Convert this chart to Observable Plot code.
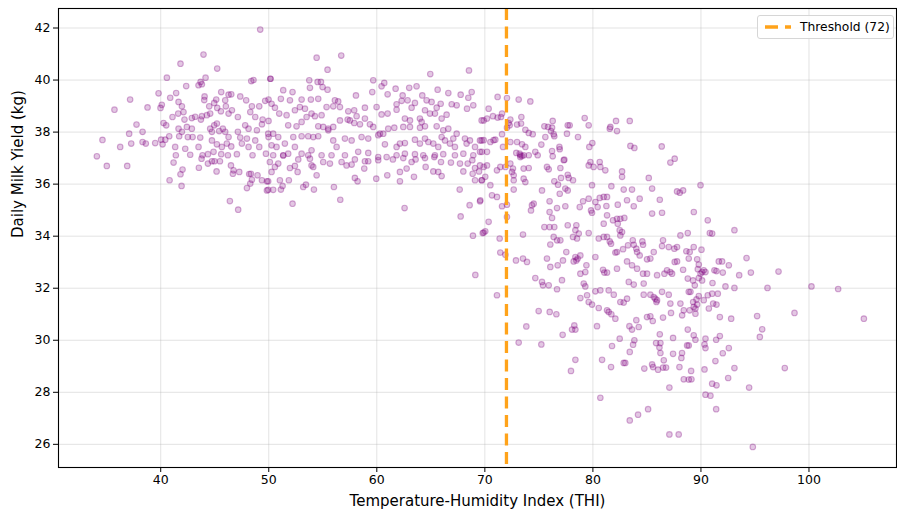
<!DOCTYPE html>
<html>
<head>
<meta charset="utf-8">
<script src="https://cdn.jsdelivr.net/npm/d3@7"></script>
<script src="https://cdn.jsdelivr.net/npm/@observablehq/plot@0.6"></script>
<style>
  html, body { margin: 0; padding: 0; background: #fff; }
  #wrap { position: relative; width: 897px; height: 512px; font-family: "DejaVu Sans", sans-serif; }
  #legend { position: absolute; left: 757px; top: 15px; width: 135px; height: 22px; white-space: nowrap;
            border: 1px solid #d6d6d6; border-radius: 3px; background: rgba(255,255,255,0.85);
            display: flex; align-items: center; font-size: 12.3px; color: #000; box-sizing: content-box; }
  #legend svg { margin-left: 7px; margin-right: 9px; flex: none; }
</style>
</head>
<body>
<div id="wrap"><div id="legend"></div></div>
<script>
// ---- data: [THI, daily milk yield (kg)] ----
const thi30to50 = [
[49.21,41.94],[43.96,40.98],[41.83,40.63],[45.23,40.44],[40.57,40.09],[44.15,40.09],[43.69,39.93],[43.5,39.8],[43.81,39.84],[42.36,39.77],[48.59,40.0],[48.38,39.96],[39.8,39.49],[40.88,39.32],[41.43,39.5],[37.17,39.25],[35.72,38.86],[38.78,38.95],[40.1,39.05],[39.98,38.93],[41.65,39.16],[41.96,38.99],[41.62,38.71],[42.11,38.77],[42.2,38.48],[42.88,38.54],[43.19,38.59],[43.72,38.48],[43.81,38.61],[44.03,39.23],[44.06,39.37],[44.49,38.99],[44.95,39.12],[45.14,39.25],[45.6,39.54],[45.23,38.93],[45.57,38.8],[45.97,39.22],[46.03,38.99],[46.28,39.44],[46.53,39.45],[47.36,39.37],[46.28,38.71],[46.59,38.84],[47.14,38.58],[47.91,39.22],[48.44,38.99],[49.12,38.99],[49.67,39.2],[49.98,39.25],[48.29,38.77],[48.75,38.58],[49.43,38.48],[47.82,38.26],[48.13,38.13],[48.9,38.07],[49.37,38.3],[49.98,38.43],[37.76,38.29],[38.32,38.01],[37.08,37.94],[34.61,37.7],[34.09,37.07],[36.25,37.43],[37.27,37.56],[38.32,37.62],[38.62,37.56],[39.49,37.58],[40.04,37.71],[40.17,37.53],[40.26,38.35],[40.51,38.26],[40.79,37.84],[41.71,37.84],[41.96,38.01],[41.34,37.43],[41.4,37.11],[42.27,37.36],[42.51,37.81],[42.88,38.13],[42.95,37.81],[42.73,37.13],[43.5,37.43],[43.66,37.79],[43.87,37.11],[44.37,37.15],[44.58,38.13],[44.74,38.01],[44.95,38.26],[45.2,38.33],[45.41,38.04],[45.75,38.13],[45.97,38.01],[46.28,37.81],[46.12,37.56],[44.74,37.68],[45.2,37.53],[45.66,37.43],[46.53,37.45],[47.05,37.15],[47.14,38.01],[47.36,37.79],[47.51,37.56],[47.98,37.75],[48.13,37.43],[48.5,37.11],[48.75,37.68],[49.12,37.43],[49.74,37.17],[49.98,37.81],[46.22,37.11],[45.6,37.15],[44.89,37.24],[41.65,38.13],[40.42,37.71],[41.09,38.58],[42.42,38.2],[44.27,38.65],[44.58,38.71],
[35.01,36.7],[36.9,36.7],[41.19,36.83],[40.82,36.15],[41.83,36.38],[42.02,36.56],[41.93,35.93],[43.53,36.63],[43.78,36.98],[44.37,36.79],[44.74,36.88],[44.98,36.88],[45.48,36.88],[45.17,36.49],[46.5,36.72],[46.74,36.53],[46.68,36.4],[47.27,36.47],[46.4,35.35],[47.17,35.02],[47.98,35.85],[48.29,36.02],[48.44,36.17],[48.19,36.39],[48.35,36.4],[48.96,36.34],[49.37,36.15],[49.83,36.11],[49.83,35.76]
];
const thi50to70 = [
[50.14,40.05],[54.43,40.86],[56.71,40.94],[55.44,40.4],[64.95,40.23],[68.53,40.37],[50.17,40.05],[53.75,39.99],[54.52,39.93],[54.83,39.93],[53.81,39.7],[54.98,39.73],[55.44,39.63],[51.34,39.61],[52.2,39.54],[58.07,39.41],[59.67,39.99],[60.44,39.76],[60.69,39.89],[59.58,39.54],[61.0,39.45],[61.74,39.67],[62.39,39.41],[63.0,39.7],[63.68,39.76],[64.21,39.41],[65.63,39.63],[66.62,39.5],[67.76,39.44],[68.78,39.54],[68.47,39.32],[51.12,39.28],[51.96,39.22],[53.04,39.25],[53.9,39.25],[54.58,39.28],[56.12,39.22],[56.43,39.18],[50.26,39.09],[50.57,38.94],[50.97,38.71],[51.65,38.65],[52.42,38.84],[52.88,38.96],[53.35,38.9],[53.96,38.71],[54.27,38.61],[54.89,38.65],[55.35,38.96],[55.97,38.99],[56.59,38.96],[57.36,38.8],[57.91,38.84],[58.9,38.94],[58.13,38.61],[59.98,38.96],[60.44,38.68],[61.0,38.71],[61.83,39.07],[62.3,39.2],[61.83,38.86],[62.85,39.22],[63.53,39.12],[63.22,38.94],[64.61,39.22],[65.07,39.16],[65.54,38.94],[65.91,39.09],[66.93,39.07],[67.39,39.03],[68.35,38.9],[68.93,39.03],[64.46,38.84],[64.92,38.71],[65.38,38.71],[66.46,38.67],[69.7,38.45],[62.6,38.52],[63.07,38.45],[63.99,38.52],[64.15,38.39],[66.0,38.52],[51.8,38.26],[52.57,38.22],[53.04,38.39],[53.5,38.58],[54.58,38.22],[55.04,38.2],[55.51,38.13],[55.97,38.2],[56.59,38.45],[57.3,38.48],[57.51,38.45],[57.91,38.35],[58.44,38.3],[58.9,38.52],[59.36,38.3],[59.67,38.2],[60.29,37.94],[61.06,38.13],[61.62,38.17],[62.45,38.2],[63.07,38.2],[64.0,38.17],[64.46,38.22],[65.54,38.22],[66.15,38.07],[66.62,38.13],[67.39,37.94],[68.16,37.75],[68.62,37.68],[69.55,37.68],[49.95,37.94],[50.41,37.94],[50.88,37.81],[52.27,37.81],[53.04,37.84],[53.65,37.84],[54.12,37.81],[54.58,37.84],[55.51,38.07],[55.97,37.68],[57.05,37.75],[57.67,37.68],[58.59,37.81],[59.21,37.75],[60.13,37.88],[60.75,37.53],[60.6,37.94],[61.83,37.43],[62.14,37.56],[62.6,37.58],[63.53,37.71],[63.99,37.56],[64.46,37.75],[64.77,37.62],[65.23,37.56],[65.69,37.43],[66.0,37.81],[66.31,37.68],[66.77,37.56],[67.08,37.75],[67.23,37.43],[68.31,37.56],[69.09,37.43],[69.7,37.68],[50.26,37.49],[50.72,37.43],[51.49,37.56],[51.8,37.17],[50.41,37.11],[51.34,37.11],[52.42,37.43],[53.04,37.17],[53.65,37.11],[53.96,37.3],[54.89,37.11],[55.81,37.11],[56.28,37.43],[57.05,37.11],[58.28,37.24],[59.21,37.2],[60.13,37.04],[60.91,37.04],[61.83,37.11],[62.6,37.17],[63.53,37.15],[64.3,37.11],[65.38,37.11],[66.15,37.15],[67.23,37.11],[68.01,37.17],[68.93,37.11],[69.55,37.24],
[52.2,35.25],[56.62,35.4],[62.57,35.08],[67.76,34.76],[68.59,35.19],[68.9,34.02],[69.12,32.51],[67.67,35.79],[69.55,35.34],[69.8,34.12],[49.95,35.78],[50.41,35.78],[51.12,35.79],[51.28,35.93],[53.19,35.89],[53.44,35.98],[54.18,35.79],[56.03,35.89],[57.97,36.24],[58.22,36.11],[59.95,36.21],[60.97,36.34],[62.14,36.11],[63.44,36.28],[66.0,36.31],[51.03,36.15],[51.86,36.15],[54.43,36.34],[52.67,36.47],[51.96,36.62],[52.42,36.7],[50.57,36.66],[50.88,36.79],[53.96,36.72],[54.12,36.66],[55.04,36.85],[55.66,36.79],[56.74,36.85],[57.2,36.72],[57.67,36.75],[57.97,36.95],[58.9,36.88],[58.84,36.6],[59.21,36.88],[60.13,36.92],[61.49,36.95],[62.45,37.0],[63.22,36.85],[63.59,36.95],[64.46,37.0],[65.32,37.04],[65.94,36.85],[62.76,36.6],[62.14,36.47],[64.52,36.66],[65.23,36.49],[65.69,36.47],[66.86,36.83],[67.7,36.79],[68.01,36.49],[68.41,36.79],[68.84,36.92],[68.87,36.4],[69.09,36.62],[69.46,36.49],[69.55,36.72],[69.7,36.15],[69.09,36.15],[49.95,36.11],[50.26,36.47],[50.1,36.85],[51.34,37.1],[52.73,36.95],[53.81,36.98]
];
const thi70to90Upper = [
[71.18,39.35],[72.05,39.31],[73.13,39.25],[74.21,39.18],[70.35,38.9],[69.89,38.45],[70.2,38.52],[70.75,38.61],[71.18,38.56],[71.49,38.58],[71.59,38.71],[72.36,38.48],[72.2,38.35],[72.3,38.26],[72.05,38.17],[73.38,38.58],[73.35,38.33],[72.98,38.29],[73.75,38.09],[74.06,37.97],[74.43,37.92],[75.51,38.22],[75.85,38.2],[76.22,38.17],[76.12,38.04],[76.37,37.92],[76.43,37.84],[76.28,38.43],[77.67,38.26],[77.85,38.26],[79.24,38.54],[79.61,38.26],[77.6,37.94],[78.62,37.81],[79.95,37.58],[79.67,37.43],[81.62,38.2],[81.56,38.13],[82.14,38.43],[82.23,38.04],[83.41,38.43],[83.47,37.47],[83.84,37.39],[86.37,37.45],[87.57,36.98],[69.89,37.69],[70.51,37.62],[70.81,37.69],[70.97,37.71],[71.59,37.92],[71.68,37.43],[72.36,37.62],[72.98,37.62],[73.44,37.53],[73.75,37.43],[73.29,37.11],[73.6,37.11],[73.22,37.17],[74.06,37.11],[74.89,37.11],[74.67,37.24],[75.23,37.52],[75.6,37.81],[76.22,37.27],[76.28,37.07],[76.9,37.43],[76.93,37.34],[77.36,36.94],[69.73,37.24],[70.2,37.24],[72.91,37.2],
[73.28,37.04],[73.44,37.08],[77.3,36.92],[79.77,36.85],[79.61,36.72],[80.07,36.66],[80.69,36.66],[81.15,36.53],[80.63,36.85],[87.17,36.83],[69.89,36.66],[70.2,36.72],[71.12,36.53],[71.43,36.66],[71.9,36.66],[72.36,36.79],[72.6,36.6],[72.51,36.47],[72.67,36.34],[73.59,36.6],[74.06,36.62],[70.04,36.28],[69.73,36.15],[72.67,36.15],[73.59,36.21],[73.75,36.08],[75.75,36.66],[75.91,36.57],[76.99,36.62],[76.43,36.11],[77.05,36.24],[77.67,36.36],[77.76,36.24],[78.16,36.15],[76.77,35.98],[82.7,36.49],[82.7,36.28],[85.17,36.24],[70.51,35.96],[72.67,35.79],[75.29,35.76],[77.45,35.83],[77.67,35.76],[79.92,35.96],[81.71,35.92],[82.85,35.79],[83.62,35.79],[85.48,35.83],[87.79,35.72],[88.04,35.67],[88.35,35.76],[69.58,35.38],[70.66,35.57],[71.12,35.51],[72.05,35.21],[71.59,35.15],[72.05,34.74],[74.36,35.19],[74.52,35.25],[74.27,34.99],[75.99,35.34],[75.99,34.93],[76.22,34.7],[76.68,35.08],[77.45,35.15],[76.93,35.63],[78.78,35.12],[79.09,35.34],[79.61,35.44],[79.92,34.9],[79.83,34.99],[80.23,35.31],[80.44,35.12],[80.63,35.47],[81.0,35.51],[81.31,35.51],[81.25,35.16],[81.31,34.8],[82.3,35.21],[83.16,35.38],[83.78,35.15],[84.33,35.44],[85.48,34.87],[86.19,35.4],[86.4,34.9]
];
const thi70to90Lower = [
[81.0,34.48],[81.86,34.61],[82.23,34.67],[82.54,34.67],[82.91,34.7],[82.3,34.48],[82.48,34.23],[82.7,34.16],[82.54,34.03],[75.51,34.35],[75.99,34.35],[76.43,34.35],[77.67,34.42],[78.47,34.42],[78.38,34.23],[78.69,34.1],[79.61,34.12],[78.16,33.97],[78.53,33.91],[76.99,33.84],[76.37,33.97],[76.68,33.84],[76.06,33.68],[73.53,34.06],[70.04,34.19],[70.35,34.55],[69.89,34.14],[71.37,33.91],[71.43,33.37],[71.9,33.29],[80.54,33.91],[81.0,33.97],[81.31,33.97],[81.56,33.8],[81.68,33.71],[82.23,33.39],[82.08,33.37],[82.79,33.5],[83.25,33.65],[83.69,33.84],[83.78,33.67],[84.02,33.52],[84.09,33.39],[84.58,33.8],[84.64,33.67],[84.33,33.26],[85.01,33.11],[85.32,33.14],[85.63,33.39],[86.49,33.84],[86.4,33.62],[87.02,33.58],[87.54,33.52],[87.79,33.58],[88.1,34.03],[88.78,34.12],[88.65,33.42],[88.96,33.39],[88.87,33.14],[89.33,33.58],[87.57,33.01],[87.79,33.03],[78.38,33.2],[78.59,33.14],[78.47,33.07],[78.22,33.03],[78.84,33.26],[79.4,32.88],[79.3,32.62],[80.23,33.2],[80.94,32.71],[81.06,32.6],[81.31,32.6],[82.23,32.75],[83.16,33.03],[83.62,32.88],[84.09,32.75],[84.64,32.56],[85.01,32.56],[85.94,32.5],[86.62,32.56],[86.86,32.69],[87.17,32.62],[87.33,32.56],[88.35,32.71],[88.78,32.37],[89.27,32.3],[72.88,33.07],[73.53,33.14],[73.9,33.01],[75.75,33.14],[76.06,32.82],[76.74,32.88],[77.23,33.07],[77.54,33.39],[74.67,32.39],[75.29,32.24],[75.38,32.11],[75.91,32.11],[76.68,31.96],[77.14,32.31],[78.84,32.56],[79.15,32.18],[79.3,32.07],[79.46,31.73],[78.84,31.62],[79.61,31.47],[79.92,31.37],[80.23,31.88],[80.69,31.92],[81.46,31.92],[80.54,31.24],[81.31,31.15],[81.46,31.09],[81.93,31.75],[82.54,31.47],[82.85,31.45],[83.16,31.6],[83.32,32.24],[83.78,32.14],[84.7,32.18],[84.7,31.75],[85.32,31.75],[85.63,31.66],[85.78,31.6],[85.88,31.47],[85.94,31.54],[86.4,31.86],[87.02,31.75],[87.17,31.41],[88.1,31.41],[88.41,31.15],[88.87,31.86],[88.96,31.15],[89.33,31.28],[71.12,31.73],
[73.13,29.91],[73.84,30.53],[75.23,29.84],[74.98,31.12],[76.0,31.09],[76.62,31.0],[77.2,30.21],[78.07,30.41],[78.28,30.57],[78.38,30.41],[78.38,29.25],[77.97,28.82],[80.38,30.54],[80.69,27.79],[80.85,29.25],[81.71,31.0],[82.08,30.83],[81.77,29.78],[82.48,30.06],[81.68,28.97],[82.85,29.13],[83.0,29.13],[83.41,29.55],[83.72,29.83],[83.84,30.0],[83.38,30.54],[83.62,30.41],[84.02,30.77],[84.24,30.51],[83.41,26.92],[84.18,27.14],[85.11,27.35],[84.76,28.91],[85.48,29.07],[85.57,28.97],[86.03,28.87],[86.49,28.95],[86.77,28.95],[86.56,29.23],[85.85,29.89],[86.25,29.89],[86.16,29.72],[86.25,29.51],[86.19,30.23],[85.54,30.74],[85.32,30.92],[85.01,30.89],[86.49,30.87],[87.23,31.05],[88.26,30.96],[87.08,28.18],[87.08,26.38],[87.94,26.38],[87.42,30.09],[87.42,29.48],[88.01,28.97],[88.19,29.32],[88.25,29.51],[88.41,28.5],[88.87,28.49],[89.09,28.82],[89.12,28.5],[88.78,30.41],[88.72,29.8],[88.87,29.8],[89.33,30.19],[89.49,30.02]
];
const thi90plus = [
[105.08,30.83],[98.66,31.05],[97.76,28.93],[94.8,25.9],[94.46,28.18],[95.2,30.93],[95.67,30.42],[95.45,30.13],[92.8,30.83],[91.75,30.89],[92.58,29.7],[93.1,28.93],[92.52,28.55],[91.41,30.02],[92.02,29.5],[91.75,30.16],[90.42,30.06],[90.33,29.84],[90.42,29.7],[91.34,29.2],[90.33,28.88],[91.04,28.33],[91.44,28.27],[90.42,27.91],[90.88,27.87],[91.41,27.35],[89.49,31.02],
[89.96,35.96],[89.34,34.93],[90.63,34.61],[90.82,34.12],[91.04,34.1],[93.1,34.23],[90.05,33.48],[94.22,33.16],[89.65,33.11],[89.8,32.91],[89.71,32.73],[91.65,33.03],[91.96,33.03],[92.58,32.88],[91.25,32.69],[91.44,32.66],[90.42,32.62],[90.11,32.62],[89.96,32.56],[90.26,32.69],[92.02,32.6],[93.54,32.5],[94.62,32.6],[97.18,32.64],[89.8,32.39],[90.11,32.3],[91.07,32.2],[89.43,32.11],[89.03,31.86],[92.27,32.07],[93.1,32.01],[96.16,32.01],[100.23,32.07],[102.7,31.97],[90.63,31.73],[91.04,31.79],[91.56,31.79],[89.8,31.7],[90.26,31.54],[89.59,31.57],[89.28,31.47],[89.49,31.22],[89.65,31.37],[90.73,31.22],[91.13,31.41],[91.44,31.37]
];
const thresholdTHI = 72;
const xTicks = [40, 50, 60, 70, 80, 90, 100];
const yTicks = [26, 28, 30, 32, 34, 36, 38, 40, 42];
const xTitle = "Temperature-Humidity Index (THI)";
const yTitle = "Daily Milk Yield (kg)";
const legendLabel = "Threshold (72)";

const readings = [...thi30to50, ...thi50to70, ...thi70to90Upper, ...thi70to90Lower, ...thi90plus]
  .map(([thi, kg]) => ({thi, kg}));

const chart = Plot.plot({
  width: 897,
  height: 512,
  marginLeft: 58,
  marginRight: 1,
  marginTop: 8,
  marginBottom: 45,
  style: {fontFamily: "DejaVu Sans, sans-serif", fontSize: "12.5px", color: "#000", background: "#fff"},
  x: {domain: [30.54, 108.1]},
  y: {domain: [25.11, 42.75]},
  marks: [
    Plot.gridX(xTicks, {stroke: "#b0b0b0", strokeOpacity: 0.35, strokeWidth: 1}),
    Plot.gridY(yTicks, {stroke: "#b0b0b0", strokeOpacity: 0.35, strokeWidth: 1}),
    Plot.dot(readings, {x: "thi", y: "kg", r: 2.8, fill: "purple", fillOpacity: 0.22,
                        stroke: "purple", strokeOpacity: 0.32, strokeWidth: 1.1}),
    Plot.ruleX([thresholdTHI], {stroke: "#ffa31a", strokeWidth: 3.3, strokeDasharray: "12,6.5"}),
    Plot.frame({stroke: "#000", strokeWidth: 1.1}),
    Plot.axisX(xTicks, {tickSize: 5, tickPadding: 3, label: null, fontSize: 12.5}),
    Plot.axisY(yTicks, {tickSize: 5, tickPadding: 3, label: null, fontSize: 12.5}),
    Plot.text([xTitle], {frameAnchor: "bottom", dy: 34, fontSize: 15, lineAnchor: "middle"}),
    Plot.text([yTitle], {frameAnchor: "left", dx: -40, rotate: -90, fontSize: 15, lineAnchor: "middle"})
  ]
});
document.getElementById("wrap").prepend(chart);

// legend (matches the dashed threshold rule)
const lg = document.getElementById("legend");
lg.innerHTML = `<svg width="26" height="6"><line x1="0" y1="3" x2="26" y2="3" stroke="#ffa31a" stroke-width="3.3" stroke-dasharray="13,7"/></svg><span>${legendLabel}</span>`;
</script>
</body>
</html>
